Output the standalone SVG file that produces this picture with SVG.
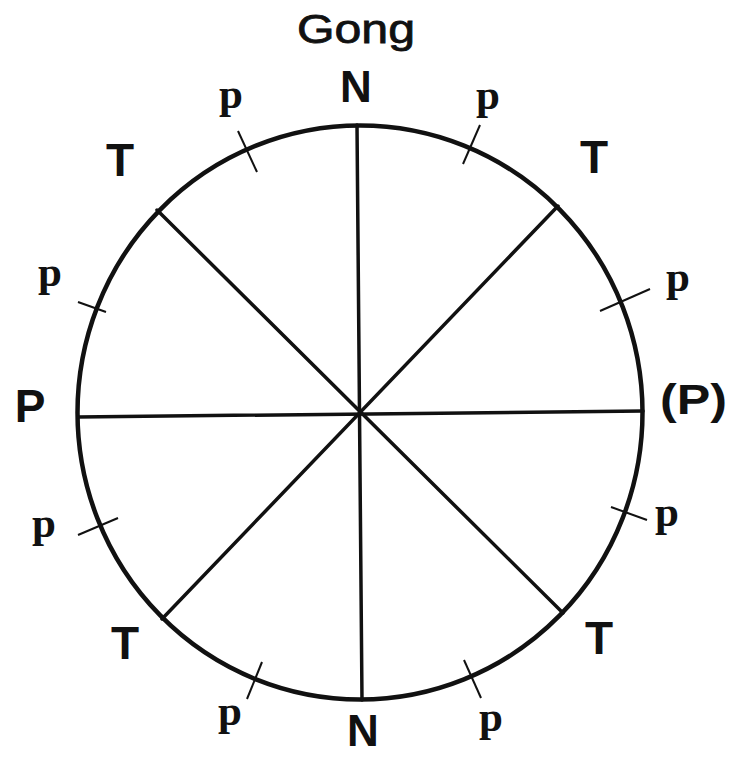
<svg xmlns="http://www.w3.org/2000/svg" width="729" height="757" viewBox="0 0 729 757">
<style>
.big{font-family:"Liberation Sans",Arial,sans-serif;font-weight:bold;fill:#111;text-anchor:middle}
.p{font-family:"Liberation Serif","Times New Roman",serif;font-weight:bold;font-size:43px;fill:#111;text-anchor:middle}
.spoke{stroke:#111;stroke-width:3.5;stroke-linecap:round;fill:none}
.tick{stroke:#111;stroke-width:2;fill:none}
</style>
<rect width="729" height="757" fill="#fff"/>
<g id="circle"><ellipse cx="360" cy="412.5" rx="282.5" ry="287" fill="none" stroke="#111" stroke-width="4.5"/></g>
<g id="connectors">
<line class="spoke" x1="357" y1="125" x2="362" y2="700"/>
<line class="spoke" x1="78" y1="417" x2="643" y2="411"/>
<line class="spoke" x1="157" y1="210" x2="563" y2="613"/>
<line class="spoke" x1="558" y1="206" x2="162" y2="619"/>
<line class="tick" x1="238" y1="131" x2="257" y2="172"/>
<line class="tick" x1="480" y1="125" x2="463" y2="164"/>
<line class="tick" x1="600" y1="311" x2="650" y2="289"/>
<line class="tick" x1="611" y1="507" x2="647" y2="520"/>
<line class="tick" x1="78" y1="302" x2="106" y2="312"/>
<line class="tick" x1="78" y1="535" x2="118" y2="518"/>
<line class="tick" x1="262" y1="662" x2="247" y2="699"/>
<line class="tick" x1="464" y1="660" x2="481" y2="698"/>
</g>
<g id="labels">
<text x="297" y="43" font-family="Liberation Sans,Arial,sans-serif" font-size="40" fill="#111" stroke="#111" stroke-width="0.8" textLength="118" lengthAdjust="spacingAndGlyphs">Gong</text>
<text class="big" x="356" y="102" font-size="44">N</text>
<text class="big" x="363" y="746" font-size="44">N</text>
<text class="big" x="30" y="422" font-size="46">P</text>
<text x="660" y="414" font-family="Liberation Sans,Arial,sans-serif" font-weight="bold" font-size="42" fill="#111" textLength="67" lengthAdjust="spacingAndGlyphs">(P)</text>
<text class="big" x="120" y="176" font-size="46">T</text>
<text class="big" x="594" y="173" font-size="46">T</text>
<text class="big" x="125" y="659" font-size="46">T</text>
<text class="big" x="599" y="654" font-size="46">T</text>
<text class="p" x="231" y="108">p</text>
<text class="p" x="488" y="109">p</text>
<text class="p" x="678" y="291">p</text>
<text class="p" x="667" y="526">p</text>
<text class="p" x="50" y="286">p</text>
<text class="p" x="44" y="537">p</text>
<text class="p" x="230" y="725">p</text>
<text class="p" x="491" y="731">p</text>
</g>
</svg>
